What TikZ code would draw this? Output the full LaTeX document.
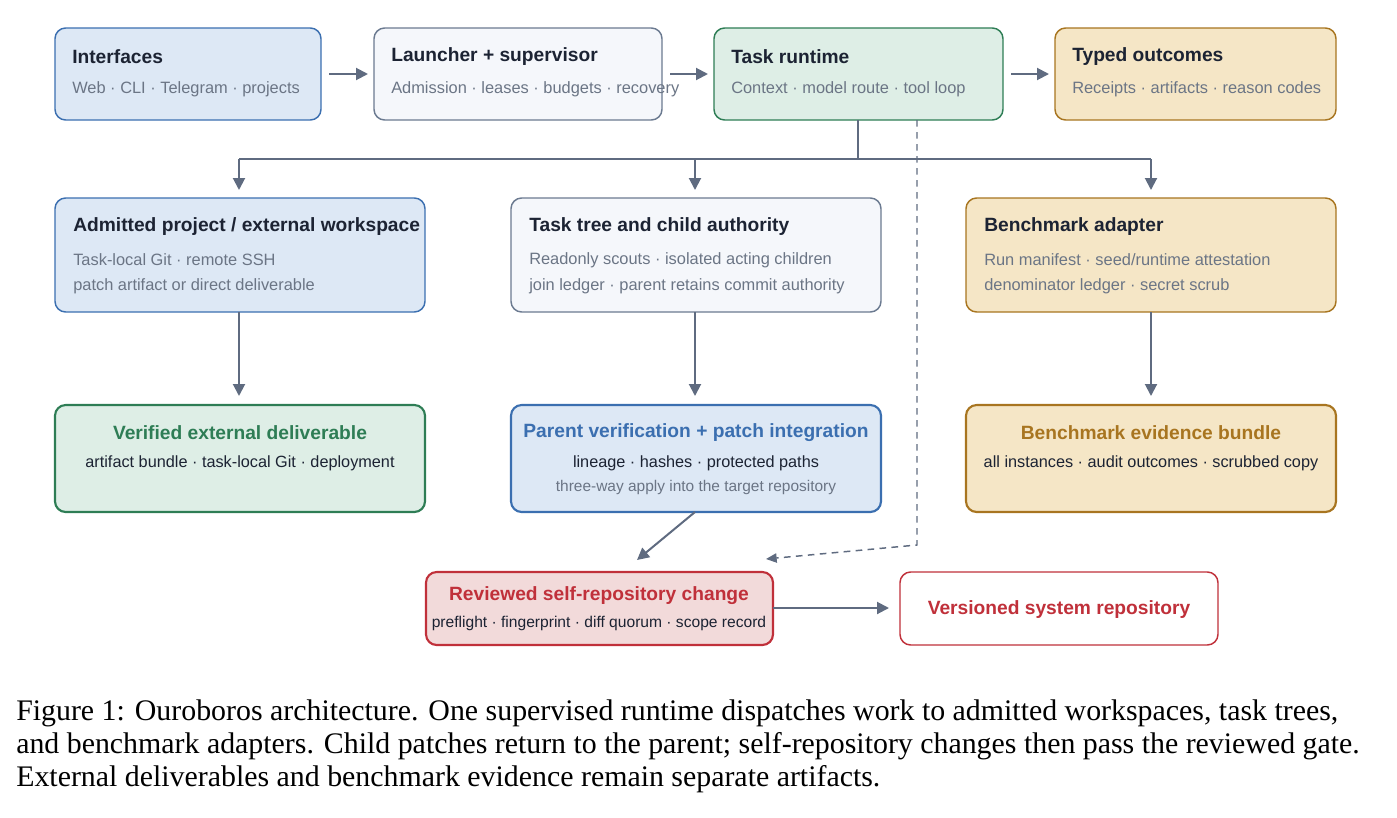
\documentclass[tikz,border=0pt]{standalone}
\usepackage{fontspec}
\setmainfont{Liberation Serif}
\newfontfamily\sans{Liberation Sans}
\usetikzlibrary{arrows.meta}
\definecolor{tdark}{HTML}{1C2333}
\definecolor{tgray}{HTML}{6B7585}
\definecolor{acol}{HTML}{5F6B80}
\definecolor{bfill}{HTML}{DDE8F5}\definecolor{bdraw}{HTML}{3B6FB0}
\definecolor{gfill}{HTML}{F5F7FB}\definecolor{gdraw}{HTML}{6B7A90}
\definecolor{nfill}{HTML}{DEEEE6}\definecolor{ndraw}{HTML}{2E7D55}
\definecolor{yfill}{HTML}{F5E6C6}\definecolor{ydraw}{HTML}{A87520}
\definecolor{rfill}{HTML}{F2DADA}\definecolor{rdraw}{HTML}{C0303A}
\begin{document}
\begin{tikzpicture}[x=0.75pt,y=-0.75pt,
 box/.style={draw,rounded corners=8pt,line width=1.1pt},
 thick box/.style={box,line width=1.6pt},
 ttl/.style={font=\sans\bfseries\fontsize{14.4}{16}\selectfont,text=tdark,inner sep=0},
 sub/.style={font=\sans\fontsize{12.3}{14}\selectfont,text=tgray,inner sep=0},
 blk/.style={font=\sans\fontsize{12.2}{14}\selectfont,text=tdark,inner sep=0},
 arr/.style={draw=acol,line width=1.5pt,-{Triangle[length=9pt,width=9pt]}},
 ln/.style={draw=acol,line width=1.5pt}]
\useasboundingbox (0,0) rectangle (1397,818);
% boxes
\draw[box,fill=bfill,draw=bdraw] (55,28) rectangle (321,120);
\draw[box,fill=gfill,draw=gdraw] (374,28) rectangle (662,120);
\draw[box,fill=nfill,draw=ndraw] (714,28) rectangle (1003,120);
\draw[box,fill=yfill,draw=ydraw] (1055,28) rectangle (1336,120);
\draw[box,fill=bfill,draw=bdraw] (55,198) rectangle (425,312);
\draw[box,fill=gfill,draw=gdraw] (511,198) rectangle (881,312);
\draw[box,fill=yfill,draw=ydraw] (966,198) rectangle (1336,312);
\draw[thick box,fill=nfill,draw=ndraw] (55,405) rectangle (425,512);
\draw[thick box,fill=bfill,draw=bdraw] (511,405) rectangle (881,512);
\draw[thick box,fill=yfill,draw=ydraw] (966,405) rectangle (1336,512);
\draw[thick box,fill=rfill,draw=rdraw] (426,572) rectangle (773,645);
\draw[box,fill=white,draw=rdraw] (900,572) rectangle (1218,645);
% texts
\node[ttl,anchor=west] (t1) at (72,57) {Interfaces};
\node[sub,anchor=west] (s1) at (72,89) {Web · CLI · Telegram · projects};
\node[ttl,anchor=west] (t2) at (391,57) {Launcher + supervisor};
\node[sub,anchor=west] (s2) at (391,89) {Admission · leases · budgets · recovery};
\node[ttl,anchor=west] (t3) at (731,57) {Task runtime};
\node[sub,anchor=west] (s3) at (731,89) {Context · model route · tool loop};
\node[ttl,anchor=west] (t4) at (1072,57) {Typed outcomes};
\node[sub,anchor=west] (s4) at (1072,89) {Receipts · artifacts · reason codes};
\node[ttl,anchor=west] (t5) at (73,227) {Admitted project / external workspace};
\node[sub,anchor=west] (s5a) at (73,260) {Task-local Git · remote SSH};
\node[sub,anchor=west] (s5b) at (73,286) {patch artifact or direct deliverable};
\node[ttl,anchor=west] (t6) at (529,227) {Task tree and child authority};
\node[sub,anchor=west] (s6a) at (529,260) {Readonly scouts · isolated acting children};
\node[sub,anchor=west] (s6b) at (529,286) {join ledger · parent retains commit authority};
\node[ttl,anchor=west] (t7) at (984,227) {Benchmark adapter};
\node[sub,anchor=west] (s7a) at (984,260) {Run manifest · seed/runtime attestation};
\node[sub,anchor=west] (s7b) at (984,286) {denominator ledger · secret scrub};
\node[ttl,text=ndraw] (t8) at (240,433) {Verified external deliverable};
\node[blk] (s8) at (240,463) {artifact bundle · task-local Git · deployment};
\node[ttl,text=bdraw] (t9) at (696,433) {Parent verification + patch integration};
\node[blk] (s9a) at (696,463) {lineage · hashes · protected paths};
\node[sub,font=\sans\fontsize{11.6}{13}\selectfont] (s9b) at (696,487) {three-way apply into the target repository};
\node[ttl,text=ydraw] (t10) at (1151,433) {Benchmark evidence bundle};
\node[blk] (s10) at (1151,463) {all instances · audit outcomes · scrubbed copy};
\node[ttl,text=rdraw] (t11) at (599,596) {Reviewed self-repository change};
\node[blk,font=\sans\fontsize{11.7}{13}\selectfont] (s11) at (599,623) {preflight · fingerprint · diff quorum · scope record};
\node[ttl,text=rdraw] (t12) at (1059,610) {Versioned system repository};
% connectors
\coordinate (a1) at (329,74); \coordinate (a2) at (368,74);
\coordinate (b1) at (670,74); \coordinate (b2) at (708,74);
\coordinate (c1) at (1011,74); \coordinate (c2) at (1049,74);
\draw[arr] (a1) -- (a2); \draw[arr] (b1) -- (b2); \draw[arr] (c1) -- (c2);
\coordinate (r0) at (858,120); \coordinate (r1) at (858,159);
\coordinate (hl) at (239,159); \coordinate (hr) at (1151,159); \coordinate (hm) at (695,159);
\draw[ln] (r0) -- (r1); \draw[ln] (hl) -- (hr);
\draw[arr] (hl) -- (239,190); \draw[arr] (hm) -- (695,190); \draw[arr] (hr) -- (1151,190);
\draw[arr] (239,312) -- (239,396); \draw[arr] (695,312) -- (695,396); \draw[arr] (1151,312) -- (1151,396);
\coordinate (d0) at (917,120); \coordinate (d1) at (917,545); \coordinate (d2) at (766,559);
\draw[arr,line width=1.1pt,dash pattern=on 5pt off 4pt,-{Triangle[length=8pt,width=7pt]}] (d0) -- (d1) -- (d2);
\draw[arr] (695,512) -- (637,560);
\draw[arr] (773,608) -- (889,608);
% caption
\node[anchor=north west,align=left,inner sep=0,font=\fontsize{22.4}{24.75}\selectfont] (cap) at (16,700)
{Figure 1: Ouroboros architecture. One supervised runtime dispatches work to admitted workspaces, task trees,\\
and benchmark adapters. Child patches return to the parent; self-repository changes then pass the reviewed gate.\\
External deliverables and benchmark evidence remain separate artifacts.};
\end{tikzpicture}
\end{document}
